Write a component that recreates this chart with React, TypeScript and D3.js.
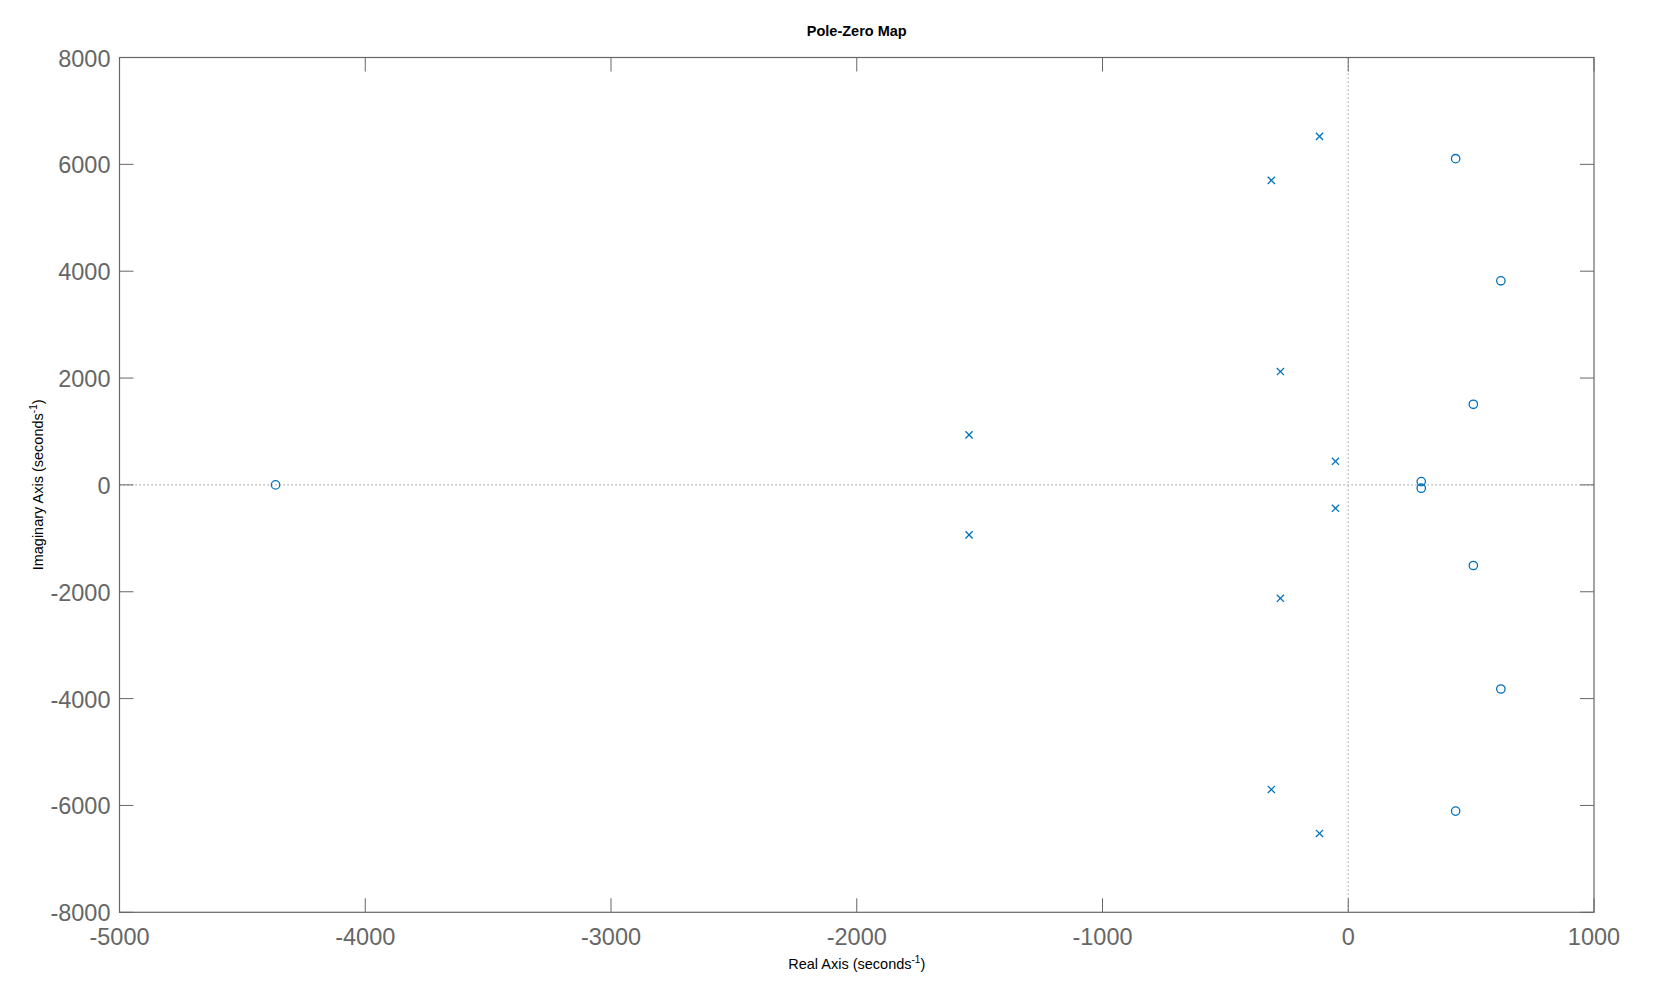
import React from "react";
import * as d3 from "d3";

const poleRe = [-117, -313, -276, -1543, -52, -52, -1543, -276, -313, -117];
const poleIm = [6524, 5701, 2122, 936, 442, -438, -936, -2122, -5701, -6524];
const zeroRe = [-4365, 437, 621, 509, 297, 297, 509, 621, 437];
const zeroIm = [0, 6106, 3820, 1509, 62, -62, -1509, -3820, -6106];
const xTicks = [-5000, -4000, -3000, -2000, -1000, 0, 1000];
const yTicks = [-8000, -6000, -4000, -2000, 0, 2000, 4000, 6000, 8000];

const W = 1655, H = 989;
const L = 119.5, R = 1594, T = 57.5, B = 912.3;
const BLUE = "#0072BD";
const AX = "#666666";
const FONT = "'Liberation Sans', Arial, Helvetica, sans-serif";

export default function App() {
  const x = d3.scaleLinear().domain([-5000, 1000]).range([L, R]);
  const y = d3.scaleLinear().domain([-8000, 8000]).range([B, T]);
  const tk = 14;
  return (
    <svg width={W} height={H} style={{ position: "absolute", left: 0, top: 0, background: "#fff" }} fontFamily={FONT}>
      <rect x={0} y={0} width={W} height={H} fill="#fff" />
      {/* zero lines */}
      <line x1={x(0)} x2={x(0)} y1={T} y2={B} stroke="#999" strokeWidth={1.2} strokeDasharray="1.2,2.8" />
      <line x1={L} x2={R} y1={y(0)} y2={y(0)} stroke="#999" strokeWidth={1.2} strokeDasharray="1.2,2.8" />
      {/* ticks */}
      {xTicks.map((t) => (
        <g key={"x" + t}>
          <line x1={x(t)} x2={x(t)} y1={B} y2={B - tk} stroke={AX} strokeWidth={1} />
          <line x1={x(t)} x2={x(t)} y1={T} y2={T + tk} stroke={AX} strokeWidth={1} />
          <text x={x(t)} y={B + 32.5} textAnchor="middle" fontSize={23.5} fill={AX}>{t}</text>
        </g>
      ))}
      {yTicks.map((t) => (
        <g key={"y" + t}>
          <line x1={L} x2={L + tk} y1={y(t)} y2={y(t)} stroke={AX} strokeWidth={1} />
          <line x1={R} x2={R - tk} y1={y(t)} y2={y(t)} stroke={AX} strokeWidth={1} />
          <text x={L - 9} y={y(t) + 9} textAnchor="end" fontSize={23.5} fill={AX}>{t}</text>
        </g>
      ))}
      <rect x={L} y={T} width={R - L} height={B - T} fill="none" stroke={AX} strokeWidth={1.2} />
      {/* poles */}
      {poleRe.map((re, i) => {
        const cx = x(re), cy = y(poleIm[i]); const s = 3.6;
        return (
          <g key={"p" + i} stroke={BLUE} strokeWidth={1.3}>
            <line x1={cx - s} x2={cx + s} y1={cy - s} y2={cy + s} />
            <line x1={cx - s} x2={cx + s} y1={cy + s} y2={cy - s} />
          </g>
        );
      })}
      {/* zeros */}
      {zeroRe.map((re, i) => (
        <circle key={"z" + i} cx={x(re)} cy={y(zeroIm[i])} r={4.2} fill="none" stroke={BLUE} strokeWidth={1.3} />
      ))}
      {/* title & labels */}
      <text x={(L + R) / 2} y={36} textAnchor="middle" fontSize={14.5} fontWeight="bold" fill="#000">Pole-Zero Map</text>
      <text x={(L + R) / 2} y={969} textAnchor="middle" fontSize={14.5} fill="#000">
        Real Axis (seconds<tspan dy={-6} fontSize={10}>-1</tspan><tspan dy={6}>)</tspan>
      </text>
      <text transform={`translate(43,${(T + B) / 2}) rotate(-90)`} textAnchor="middle" fontSize={14.5} fill="#000">
        Imaginary Axis (seconds<tspan dy={-6} fontSize={10}>-1</tspan><tspan dy={6}>)</tspan>
      </text>
    </svg>
  );
}
